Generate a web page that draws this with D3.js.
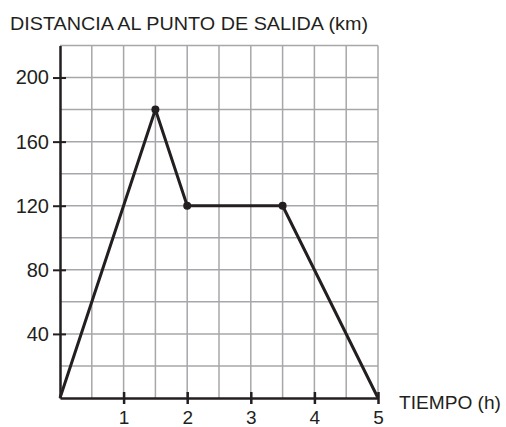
<!DOCTYPE html>
<html><head><meta charset="utf-8">
<script src="https://cdn.jsdelivr.net/npm/d3@7"></script>
<style>body{margin:0;background:#fff}svg{display:block}text{font-family:"Liberation Sans",Arial,sans-serif;fill:#231f20}</style>
</head><body>
<script>
const timeH = [0, 1.5, 2, 3.5, 5];
const distKm = [0, 180, 120, 120, 0];
const markedIdx = [1, 2, 3];
const xTicks = [1, 2, 3, 4, 5];
const yTicks = [40, 80, 120, 160, 200];
const yTitle = "DISTANCIA AL PUNTO DE SALIDA (km)";
const xTitle = "TIEMPO (h)";

const W = 506, H = 427;
const svg = d3.select("body").append("svg").attr("width", W).attr("height", H);
const x = d3.scaleLinear().domain([0, 5]).range([60, 378]);
const y = d3.scaleLinear().domain([0, 220]).range([398, 45.5]);
const ink = "#231f20";

// grid
const g = svg.append("g");
g.selectAll(".vg").data(d3.range(1, 11).map(i => i * 0.5)).join("line")
  .attr("x1", d => x(d)).attr("x2", d => x(d)).attr("y1", y(0)).attr("y2", y(220))
  .attr("stroke", "#a7a7ab").attr("stroke-width", 1.5);
g.selectAll(".hg").data(d3.range(1, 12).map(i => i * 20)).join("line")
  .attr("x1", x(0)).attr("x2", x(5)).attr("y1", d => y(d)).attr("y2", d => y(d))
  .attr("stroke", "#a7a7ab").attr("stroke-width", 1.5);

// axes
const xAxis = svg.append("g").attr("transform", `translate(0,${y(0)})`)
  .call(d3.axisBottom(x).tickValues(xTicks).tickFormat(d3.format("d")).tickSizeInner(6).tickSizeOuter(0));
xAxis.select(".domain").attr("stroke", ink).attr("stroke-width", 2.5);
xAxis.selectAll(".tick line").attr("stroke", ink).attr("stroke-width", 2.5).attr("y1", -6);
xAxis.selectAll(".tick text").attr("font-size", 19).attr("fill", ink).attr("y", 26).attr("dy", 0);

const yAxis = svg.append("g").attr("transform", `translate(${x(0)},0)`)
  .call(d3.axisLeft(y).tickValues(yTicks).tickFormat(d3.format("d")).tickSizeInner(7).tickSizeOuter(0));
yAxis.select(".domain").attr("stroke", ink).attr("stroke-width", 2.5);
yAxis.selectAll(".tick line").attr("stroke", ink).attr("stroke-width", 2).attr("x2", 6).attr("x1", -7);
yAxis.selectAll(".tick text").attr("font-size", 20).attr("fill", ink).attr("x", -11);

// line
const pts = timeH.map((t, i) => [t, distKm[i]]);
svg.append("path").datum(pts)
  .attr("d", d3.line().x(d => x(d[0])).y(d => y(d[1])))
  .attr("fill", "none").attr("stroke", ink).attr("stroke-width", 3).attr("stroke-linejoin", "round");
svg.selectAll(".dot").data(markedIdx.map(i => pts[i])).join("circle")
  .attr("cx", d => x(d[0])).attr("cy", d => y(d[1])).attr("r", 4).attr("fill", ink);

// titles
svg.append("text").attr("x", 10).attr("y", 30).attr("font-size", 19)
  .attr("textLength", 358).attr("lengthAdjust", "spacingAndGlyphs").text(yTitle);
svg.append("text").attr("x", 399).attr("y", 409).attr("font-size", 19)
  .attr("textLength", 102).attr("lengthAdjust", "spacingAndGlyphs").text(xTitle);
</script>
</body></html>
